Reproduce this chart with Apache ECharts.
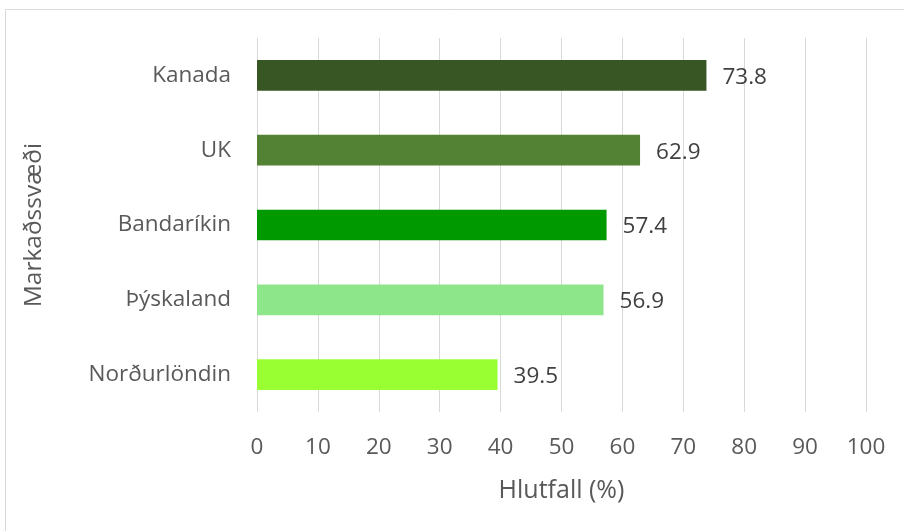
<!DOCTYPE html>
<html><head><meta charset="utf-8">
<script src="https://cdn.jsdelivr.net/npm/echarts@6/dist/echarts.min.js"></script>
<style>html,body{margin:0;padding:0;background:#fff}#c{width:904px;height:531px}</style>
</head><body><div id="c"></div>
<script>
const categories = ['Norðurlöndin', 'Þýskaland', 'Bandaríkin', 'UK', 'Kanada'];
const values = [39.5, 56.9, 57.4, 62.9, 73.8];
const barColors = ['#99FF33', '#8DE68A', '#009900', '#548235', '#375623'];
const xTicks = [0, 10, 20, 30, 40, 50, 60, 70, 80, 90, 100];
const xTitle = 'Hlutfall (%)';
const yTitle = 'Markaðssvæði';
const FONT = 'Open Sans';

const chart = echarts.init(document.getElementById('c'), null, {renderer: 'canvas'});
chart.setOption({
  animation: false,
  backgroundColor: '#fff',
  textStyle: {fontFamily: FONT},
  graphic: [{type: 'rect', shape: {x: 5.5, y: 9.5, width: 1000, height: 1000}, style: {fill: 'none', stroke: '#d9d9d9', lineWidth: 1}, z: -1}],
  grid: {left: 257, right: 38, top: 38, bottom: 119, containLabel: false},
  xAxis: {
    type: 'value', min: xTicks[0], max: xTicks[xTicks.length - 1], interval: 10,
    axisLine: {show: false}, axisTick: {show: false},
    splitLine: {show: true, lineStyle: {color: '#d9d9d9', width: 1}},
    axisLabel: {color: '#595959', fontSize: 22.5, margin: 24, fontFamily: FONT},
    name: xTitle, nameLocation: 'middle', nameGap: 66,
    nameTextStyle: {color: '#595959', fontSize: 25, fontFamily: FONT}
  },
  yAxis: {
    type: 'category', data: categories,
    axisLine: {show: false}, axisTick: {show: false},
    axisLabel: {color: '#595959', fontSize: 22.5, margin: 26, fontFamily: FONT},
    name: yTitle, nameLocation: 'middle', nameGap: 210, nameRotate: 90,
    nameTextStyle: {color: '#595959', fontSize: 24.5, fontFamily: FONT}
  },
  series: [{
    type: 'bar', barCategoryGap: '59%',
    data: values.map((v, i) => ({value: v, itemStyle: {color: barColors[i]}})),
    label: {show: true, position: 'right', distance: 16, color: '#404040', fontSize: 22.5, fontFamily: FONT, formatter: p => p.value.toFixed(1), offset: [0, 2]}
  }]
});
</script></body></html>
